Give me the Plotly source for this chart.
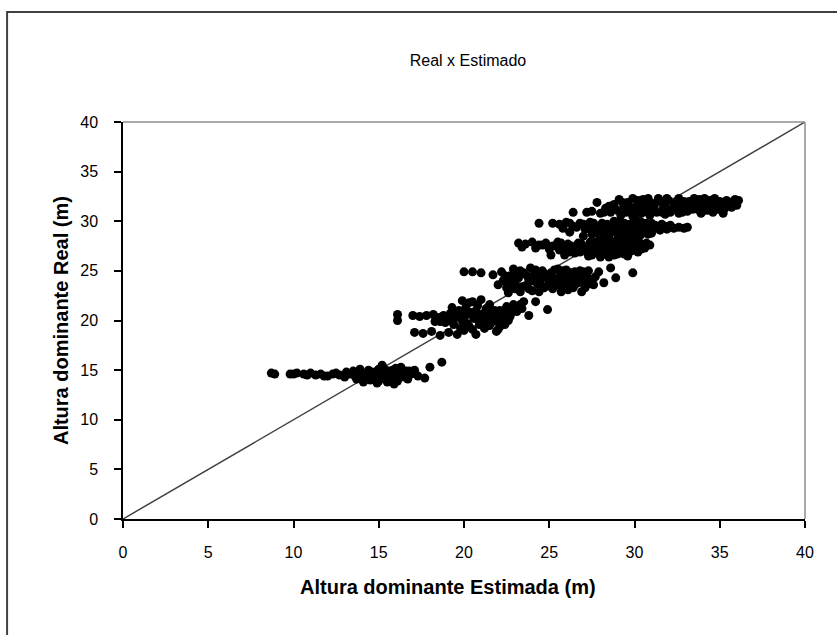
import plotly.graph_objects as go

# Band around 14.5 m
band1_x = [8.7, 8.9, 9.8, 10.2, 10.6, 11.0, 11.3, 11.6, 12.0, 12.3, 12.7, 13.0, 13.3, 13.6, 13.8, 14.0,
           14.2, 14.4, 14.5, 14.7, 14.9, 15.0, 15.1, 15.3, 15.4, 15.5, 15.7, 15.8, 16.0, 16.1, 16.3, 16.4,
           16.6, 16.7, 16.9, 17.1, 15.2, 14.1, 15.9, 13.9, 17.7, 18.0, 18.7, 17.3,
           13.5, 13.7, 14.3, 14.6, 14.8, 15.0, 15.2, 15.6, 15.9, 16.2, 16.5, 16.8, 15.4, 14.9, 16.0, 12.5,
           11.8, 10.8, 10.0, 13.1]
band1_y = [14.7, 14.6, 14.6, 14.7, 14.6, 14.7, 14.5, 14.6, 14.4, 14.6, 14.5, 14.3, 14.6, 14.4, 14.8, 14.2,
           14.6, 15.0, 14.0, 14.5, 14.9, 13.9, 14.4, 15.2, 14.7, 13.8, 14.3, 15.0, 14.6, 13.9, 15.3, 14.4,
           14.9, 14.1, 14.6, 15.0, 15.5, 13.8, 13.6, 15.1, 14.2, 15.3, 15.8, 14.4,
           14.9, 14.1, 14.3, 14.8, 14.2, 15.1, 14.6, 14.9, 14.4, 14.7, 14.3, 14.9, 14.1, 13.7, 15.2, 14.7,
           14.4, 14.5, 14.6, 14.8]

# Band around 20 m
band2_x = [16.1, 16.1, 17.0, 17.4, 17.8, 18.2, 18.5, 18.8, 19.0, 19.2, 19.4, 19.5, 19.7, 19.8, 20.0, 20.1,
           20.2, 20.4, 20.5, 20.6, 20.8, 20.9, 21.0, 21.2, 21.3, 21.5, 21.6, 21.8, 22.0, 22.1, 22.3, 22.5,
           22.6, 22.8, 23.0, 23.3, 19.9, 20.3, 17.1, 17.6, 18.1, 18.6, 19.1, 19.6, 20.7, 21.9, 22.4, 19.3,
           18.6, 21.0, 23.8,
           18.9, 19.1, 19.3, 19.6, 19.9, 20.1, 20.3, 20.5, 20.7, 20.9, 21.1, 21.3, 21.4, 21.7, 21.9, 22.1,
           22.2, 22.4, 22.7, 22.9, 23.1, 23.4, 21.5, 20.5, 18.3, 20.0, 21.2, 22.0]
band2_y = [20.0, 20.6, 20.5, 20.4, 20.5, 20.6, 20.3, 20.5, 20.0, 20.7, 19.6, 20.3, 21.0, 19.2, 20.4, 21.3,
           19.7, 20.8, 19.1, 20.2, 21.5, 19.6, 20.6, 20.0, 21.2, 19.5, 20.5, 21.0, 20.1, 19.4, 20.7, 21.4,
           20.0, 20.8, 21.2, 21.6, 22.0, 21.8, 18.8, 18.7, 18.9, 18.5, 18.8, 18.6, 18.6, 18.9, 19.6, 21.3,
           19.9, 22.1, 20.5,
           19.8, 20.3, 19.9, 20.6, 20.0, 20.6, 19.4, 20.5, 21.0, 20.3, 19.8, 20.4, 20.9, 19.9, 20.4, 21.0,
           20.3, 20.9, 20.4, 21.6, 20.9, 21.2, 21.6, 21.9, 19.9, 19.0, 19.2, 19.1]

# Band around 24 m
band3_x = [20.0, 20.5, 21.0, 21.7, 22.2, 22.3, 22.5, 22.7, 22.9, 23.0, 23.2, 23.3, 23.5, 23.6, 23.8, 23.9,
           24.0, 24.1, 24.3, 24.4, 24.6, 24.7, 24.8, 25.0, 25.1, 25.2, 25.4, 25.5, 25.7, 25.8, 26.0, 26.1,
           26.3, 26.5, 26.6, 26.8, 27.0, 27.2, 27.5, 27.9, 28.2, 28.6, 28.9, 29.9, 23.5, 24.2, 24.9, 22.0, 26.9,
           22.4, 22.8, 23.1, 23.4, 23.7, 24.0, 24.2, 24.5, 24.7, 24.9, 25.1, 25.3, 25.5, 25.6, 25.9, 26.0,
           26.2, 26.4, 26.7, 26.9, 27.1, 27.3, 27.4, 27.7, 23.0, 24.4, 25.7, 22.6,
           22.5, 23.0, 23.3, 23.8, 24.3, 24.6, 25.0, 25.3, 25.8, 26.1, 26.5, 26.3, 27.0, 27.2, 27.6, 27.3, 22.7]
band3_y = [24.9, 24.9, 24.8, 24.6, 24.9, 24.0, 23.3, 24.5, 25.2, 23.8, 24.3, 22.9, 24.8, 23.5, 24.1, 25.3,
           23.0, 24.6, 23.7, 24.2, 25.0, 23.3, 24.4, 23.9, 24.8, 23.2, 24.2, 25.2, 23.7, 24.6, 24.0, 23.1,
           24.8, 23.6, 24.3, 25.0, 23.9, 24.5, 24.1, 24.9, 23.8, 25.3, 24.3, 24.8, 21.9, 21.9, 21.1, 23.6, 22.9,
           24.5, 23.9, 24.9, 23.4, 24.5, 24.0, 25.1, 23.6, 24.7, 23.5, 24.2, 25.1, 23.6, 24.4, 23.3, 25.1,
           24.2, 23.3, 23.8, 24.6, 23.3, 25.0, 23.7, 24.4, 23.2, 22.9, 22.9, 22.8,
           24.2, 24.6, 25.0, 23.2, 24.9, 24.3, 24.6, 23.6, 25.0, 24.6, 24.9, 23.8, 24.9, 23.9, 23.6, 24.2, 23.7]

# Band around 27.5 m
band4_x = [23.2, 23.6, 24.0, 24.4, 24.8, 25.2, 25.5, 25.8, 26.1, 26.4, 26.7, 27.0, 27.2, 27.4, 27.6, 27.8,
           28.0, 28.2, 28.4, 28.6, 28.8, 29.0, 29.2, 29.4, 29.6, 29.8, 30.0, 30.3, 30.6, 30.9, 25.1, 25.9,
           26.5, 27.3, 28.5,
           25.0, 25.4, 25.7, 26.0, 26.3, 26.6, 26.9, 27.1, 27.5, 27.7, 27.9, 28.1, 28.3, 28.5, 28.7, 28.9,
           29.1, 29.3, 29.5, 29.7, 29.9, 30.1, 30.4, 30.7, 27.5, 28.0, 29.0, 29.6,
           23.4, 24.2, 24.6, 25.6, 26.2, 26.8, 27.6, 28.2, 28.8, 29.4, 30.2, 30.5]
band4_y = [27.8, 27.7, 27.9, 27.6, 27.8, 27.5, 27.9, 27.3, 27.7, 27.1, 27.8, 27.4, 26.9, 27.9, 27.2, 27.6,
           26.8, 27.9, 27.3, 27.7, 27.0, 27.5, 27.9, 27.2, 27.6, 27.0, 27.4, 27.8, 27.3, 27.6, 26.6, 26.6,
           26.8, 26.5, 26.4,
           27.2, 27.5, 27.8, 27.1, 27.5, 27.3, 27.7, 27.2, 27.5, 27.9, 27.3, 27.5, 26.9, 27.5, 27.3, 27.8,
           27.2, 27.5, 26.9, 27.9, 27.3, 27.7, 27.2, 27.8, 26.6, 26.4, 26.7, 26.5,
           27.4, 27.3, 27.6, 27.1, 26.9, 26.9, 26.9, 26.7, 26.6, 26.7, 26.9, 27.6]

# Band around 29.5 m
band5_x = [24.4, 25.2, 25.6, 26.0, 26.4, 26.8, 27.1, 27.4, 27.7, 27.9, 28.1, 28.3, 28.5, 28.7, 28.9, 29.1,
           29.3, 29.5, 29.7, 29.9, 30.1, 30.3, 30.5, 30.7, 30.9, 31.2, 31.5, 31.8, 32.3, 32.9, 33.1, 28.0,
           29.0, 30.0, 27.0, 28.6, 29.6,
           25.8, 26.2, 26.6, 27.0, 27.3, 27.6, 27.8, 28.0, 28.2, 28.4, 28.6, 28.8, 29.0, 29.2, 29.4, 29.6,
           29.8, 30.0, 30.2, 30.4, 30.6, 30.8, 31.0, 31.3, 31.6, 31.9, 32.1, 32.6, 27.5, 28.3, 29.3, 30.3,
           31.0, 26.2]
band5_y = [29.8, 29.8, 29.7, 29.9, 29.5, 29.8, 29.2, 29.9, 29.4, 28.7, 29.8, 29.1, 28.5, 29.6, 28.9, 30.0,
           29.3, 28.6, 29.7, 29.0, 30.1, 29.4, 28.8, 29.8, 29.2, 29.6, 29.1, 29.5, 29.3, 29.3, 29.4, 28.2,
           28.2, 28.4, 28.5, 28.0, 28.0,
           29.3, 29.8, 29.4, 29.7, 29.3, 29.8, 29.2, 29.5, 28.9, 29.7, 29.2, 30.0, 29.5, 28.8, 29.8, 29.3,
           28.7, 29.6, 28.9, 29.9, 29.3, 28.7, 29.8, 29.3, 29.7, 29.2, 29.6, 29.4, 28.7, 28.3, 28.3, 28.5,
           28.8, 28.9]

# Band around 31.5 m
band6_x = [26.4, 27.2, 27.5, 27.8, 28.0, 28.3, 28.6, 28.8, 29.0, 29.2, 29.4, 29.6, 29.8, 30.0, 30.2, 30.4,
           30.6, 30.8, 31.0, 31.2, 31.4, 31.6, 31.8, 32.0, 32.2, 32.4, 32.6, 32.8, 33.0, 33.2, 33.4, 33.6,
           33.8, 34.0, 34.2, 34.4, 34.6, 34.8, 35.0, 35.3, 35.6, 35.9, 36.0, 36.1, 35.2, 33.9, 29.1, 29.9,
           28.2, 28.5, 28.9, 29.3, 29.5, 29.7, 30.1, 30.3, 30.5, 30.7, 30.9, 31.1, 31.3, 31.5, 31.7, 31.9,
           32.1, 32.3, 32.5, 32.7, 32.9, 33.1, 33.3, 33.5, 33.7, 33.9, 34.1, 34.3, 34.5, 34.7, 34.9, 35.1,
           35.4, 35.7, 35.8, 36.0, 31.8, 32.6, 30.9, 29.9]
band6_y = [30.9, 30.9, 31.0, 31.9, 30.8, 31.3, 30.9, 31.7, 31.1, 30.6, 31.5, 31.9, 30.9, 31.4, 32.1, 30.8,
           31.6, 32.3, 31.1, 31.8, 32.3, 30.9, 31.5, 32.1, 31.2, 31.8, 32.3, 30.9, 31.5, 32.0, 31.2, 31.7,
           32.2, 31.0, 31.6, 32.1, 30.9, 31.5, 32.0, 31.3, 31.8, 32.2, 31.6, 32.1, 30.8, 30.8, 32.2, 32.3,
           30.9, 31.5, 31.2, 31.9, 30.9, 31.4, 30.9, 31.6, 32.2, 31.0, 31.9, 31.4, 30.9, 32.0, 31.3, 32.3,
           30.9, 31.5, 32.0, 31.3, 32.0, 31.0, 31.6, 32.3, 31.2, 31.8, 32.3, 31.1, 31.7, 32.3, 31.2, 31.7,
           32.1, 31.4, 32.0, 31.9, 30.7, 30.8, 30.6, 30.5]

line_x = [0, 40]
line_y = [0, 40]
x_ticks = [0, 5, 10, 15, 20, 25, 30, 35, 40]
y_ticks = [0, 5, 10, 15, 20, 25, 30, 35, 40]

est = band1_x + band2_x + band3_x + band4_x + band5_x + band6_x
real = band1_y + band2_y + band3_y + band4_y + band5_y + band6_y

fig = go.Figure()
fig.add_trace(go.Scatter(x=line_x, y=line_y, mode="lines",
                         line=dict(color="#404040", width=1.5), hoverinfo="skip", showlegend=False))
fig.add_trace(go.Scatter(x=est, y=real, mode="markers",
                         marker=dict(color="black", size=9, line=dict(width=0)), showlegend=False))

font = "Liberation Sans, Arial, sans-serif"
L, R, T, B = 122.5, 805, 122, 519
W, H = 837, 635
pw, ph = R - L, B - T

fig.update_layout(
    width=W, height=H,
    margin=dict(l=L, r=W - R, t=T, b=H - B),
    paper_bgcolor="white", plot_bgcolor="white",
    font=dict(family=font, color="black"),
    title=dict(text="Real x Estimado", x=468 / W, xanchor="center",
               y=1 - 60 / H, yanchor="middle", yref="container",
               font=dict(size=16, family=font, color="black")),
    xaxis=dict(range=[0, 40], tickvals=x_ticks, showgrid=False, zeroline=False,
               showline=True, linecolor="black", linewidth=1.5,
               ticks="outside", ticklen=7, tickwidth=1.5, tickcolor="black",
               tickfont=dict(size=16), ticklabelstandoff=11),
    yaxis=dict(range=[0, 40], tickvals=y_ticks, showgrid=False, zeroline=False,
               showline=True, linecolor="black", linewidth=1.5,
               ticks="outside", ticklen=7, tickwidth=1.5, tickcolor="black",
               tickfont=dict(size=16), ticklabelstandoff=13),
    annotations=[
        dict(text="<b>Altura dominante Estimada (m)</b>", xref="paper", yref="paper",
             x=(448 - L) / pw, y=(B - 587) / ph, xanchor="center", yanchor="middle",
             showarrow=False, font=dict(size=20)),
        dict(text="<b>Altura dominante Real (m)</b>", xref="paper", yref="paper",
             x=(60 - L) / pw, y=0.5, xanchor="center", yanchor="middle",
             textangle=-90, showarrow=False, font=dict(size=20)),
    ],
    shapes=[
        dict(type="line", xref="paper", yref="paper", x0=0, x1=1, y0=1, y1=1,
             line=dict(color="#8c8c8c", width=1.5)),
        dict(type="line", xref="paper", yref="paper", x0=1, x1=1, y0=0, y1=1,
             line=dict(color="#8c8c8c", width=1.5)),
        dict(type="rect", xref="paper", yref="paper",
             x0=(6.5 - L) / pw, x1=(W + 10 - L) / pw,
             y0=(B - (H + 10)) / ph, y1=(B - 12) / ph,
             line=dict(color="#404040", width=2), fillcolor="rgba(0,0,0,0)", layer="below"),
    ],
)

fig.write_html("out.html")
